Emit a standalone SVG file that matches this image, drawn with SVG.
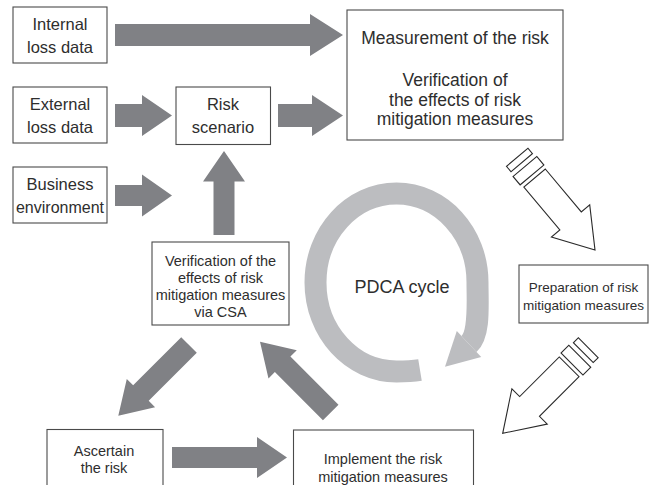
<svg xmlns="http://www.w3.org/2000/svg" width="649" height="485" viewBox="0 0 649 485">
<defs>
<style>
.box{fill:#fff;stroke:#4a4a4a;stroke-width:1.1}
.t{font-family:"Liberation Sans",Arial,sans-serif;fill:#2e2e2e;text-anchor:middle}
.l{font-size:16.5px}
.m{font-size:17.5px}
.s{font-size:14.5px}
.xs{font-size:13.5px}
.dark{fill:#808185}
.pen{fill:#fff;stroke:#2a2a2a;stroke-width:1.1;stroke-linejoin:miter}
</style>
<path id="diag" d="M -100,-11 L -32,-11 L -32,-20 L 0,0 L -32,20 L -32,11 L -100,11 Z"/>
<g id="pencil">
<path class="pen" d="M -94,-14 L -38,-14 L -38,-25 L 0,0 L -38,25 L -38,14 L -94,14 Z"/>
<rect class="pen" x="-109" y="-15.5" width="11" height="31"/>
<rect class="pen" x="-121" y="-14" width="7" height="28"/>
</g>
</defs>
<rect width="649" height="485" fill="#fff"/>

<g id="connectors">
<polygon class="dark" points="115,24 310,24 310,14 343,35 310,56 310,46 115,46"/>
<polygon class="dark" points="115,104 142,104 142,95 172,115.5 142,136 142,127 115,127"/>
<polygon class="dark" points="278,104 312,104 312,95 343,115.5 312,136 312,127 278,127"/>
<polygon class="dark" points="115,185 142,185 142,174.5 172,195.5 142,216.5 142,206 115,206"/>
<polygon class="dark" points="213.5,235 213.5,181.5 203,181.5 224,151 245,181.5 234.5,181.5 234.5,235"/>
<use href="#diag" class="dark" transform="translate(118.3,415.7) rotate(135)"/>
<use href="#diag" class="dark" transform="translate(260,341.7) rotate(225)"/>
<polygon class="dark" points="172,447 257,447 257,437 287,457.5 257,478 257,468 172,468"/>
<use href="#pencil" transform="translate(595,250) rotate(50)"/>
<use href="#pencil" transform="translate(502.7,433.3) rotate(135)"/>
</g>

<g id="pdca">
<path d="M 420,370 C 412,371.3 404,371.5 396.5,371.5 C 351.8,371.5 315.5,331.7 315.5,282.5 C 315.5,233.3 351.8,193.5 396.5,193.5 C 441.2,193.5 477.5,233.3 477.5,282.5 C 477.5,305 480,333.8 469,344" fill="none" stroke="#bcbdc0" stroke-width="22"/>
<polygon points="456.8,330.9 481.2,357.1 445,366.8" fill="#bcbdc0"/>
<text class="t" x="402" y="293" style="font-size:18px">PDCA cycle</text>
</g>

<g id="internal">
<rect class="box" x="13" y="7" width="94" height="56"/>
<text class="t l" x="60" y="29.5">Internal</text>
<text class="t l" x="60" y="52.5">loss data</text>
</g>
<g id="external">
<rect class="box" x="13" y="87" width="94" height="56"/>
<text class="t l" x="60" y="109.5">External</text>
<text class="t l" x="60" y="132.5">loss data</text>
</g>
<g id="business">
<rect class="box" x="13" y="167" width="94" height="56"/>
<text class="t l" x="60" y="189.5">Business</text>
<text class="t l" x="60" y="212.5" style="font-size:16px">environment</text>
</g>
<g id="risk-scenario">
<rect class="box" x="176" y="87" width="94.5" height="57.5"/>
<text class="t l" x="223" y="110">Risk</text>
<text class="t l" x="223" y="133">scenario</text>
</g>
<g id="measurement">
<rect class="box" x="347" y="10" width="216" height="130"/>
<text class="t m" x="455" y="44">Measurement of the risk</text>
<text class="t m" x="455" y="86">Verification of</text>
<text class="t m" x="455" y="105.5">the effects of risk</text>
<text class="t m" x="455" y="125">mitigation measures</text>
</g>
<g id="csa">
<rect class="box" x="152" y="242" width="137" height="83"/>
<text class="t s" x="220.5" y="266">Verification of the</text>
<text class="t s" x="220.5" y="283">effects of risk</text>
<text class="t s" x="220.5" y="300">mitigation measures</text>
<text class="t s" x="220.5" y="317">via CSA</text>
</g>
<g id="preparation">
<rect class="box" x="519" y="265" width="129" height="58"/>
<text class="t xs" x="583.5" y="292">Preparation of risk</text>
<text class="t xs" x="583.5" y="310">mitigation measures</text>
</g>
<g id="ascertain">
<rect class="box" x="47" y="429.5" width="116" height="70"/>
<text class="t s" x="104" y="456">Ascertain</text>
<text class="t s" x="104" y="473">the risk</text>
</g>
<g id="implement">
<rect class="box" x="293.5" y="430" width="180" height="70"/>
<text class="t s" x="383" y="464">Implement the risk</text>
<text class="t s" x="383" y="481.5">mitigation measures</text>
</g>
</svg>
